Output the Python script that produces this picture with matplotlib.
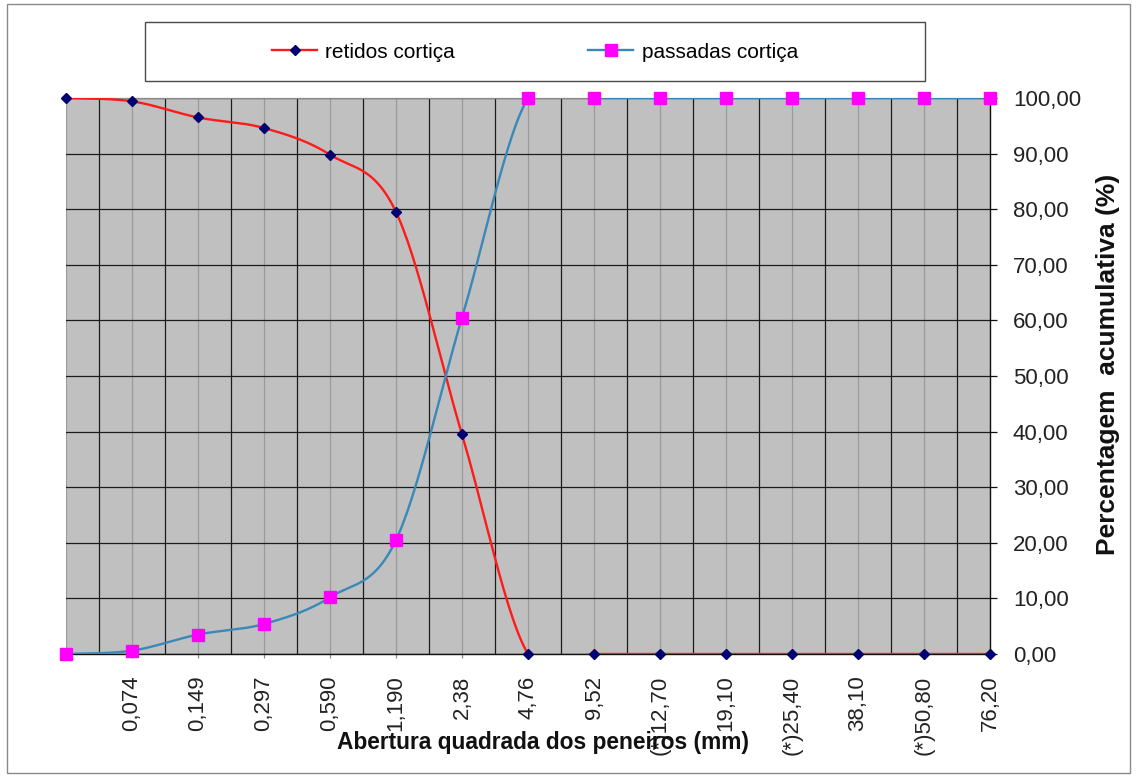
import numpy as np
import matplotlib
matplotlib.use("Agg")
import matplotlib.pyplot as plt
from matplotlib.lines import Line2D
from matplotlib.patches import Rectangle

plt.rcParams['font.family'] = ['Liberation Sans', 'DejaVu Sans']

# Sieve openings (mm) and cumulative percentages
sieves = ["", "0,074", "0,149", "0,297", "0,590", "1,190", "2,38", "4,76", "9,52",
          "(*)12,70", "19,10", "(*)25,40", "38,10", "(*)50,80", "76,20"]
retidos = [100.0, 99.4, 96.5, 94.6, 89.8, 79.5, 39.5, 0.0, 0.0,
           0.0, 0.0, 0.0, 0.0, 0.0, 0.0]
passadas = [0.0, 0.6, 3.5, 5.4, 10.2, 20.5, 60.5, 100.0, 100.0,
            100.0, 100.0, 100.0, 100.0, 100.0, 100.0]
yticks = [0, 10, 20, 30, 40, 50, 60, 70, 80, 90, 100]


def smooth(x, y, n=30):
    """Catmull-Rom style smoothing through every point (cubic Bezier pieces)."""
    x = np.asarray(x, float)
    y = np.asarray(y, float)
    px = np.concatenate([[x[0]], x, [x[-1]]])
    py = np.concatenate([[y[0]], y, [y[-1]]])
    xs, ys = [], []
    t = np.linspace(0, 1, n)
    for i in range(1, len(px) - 2):
        p0 = np.array([px[i], py[i]])
        p3 = np.array([px[i + 1], py[i + 1]])
        c1 = p0 + (np.array([px[i + 1], py[i + 1]]) - np.array([px[i - 1], py[i - 1]])) / 6
        c2 = p3 - (np.array([px[i + 2], py[i + 2]]) - np.array([px[i], py[i]])) / 6
        b = (np.outer((1 - t) ** 3, p0) + np.outer(3 * t * (1 - t) ** 2, c1)
             + np.outer(3 * t ** 2 * (1 - t), c2) + np.outer(t ** 3, p3))
        xs.append(b[:, 0])
        ys.append(b[:, 1])
    return np.concatenate(xs), np.concatenate(ys)


W, H = 1137, 776
fig = plt.figure(figsize=(W / 100, H / 100), dpi=100)

# chart frame
fig.patches.append(Rectangle((7 / W, 1 - 773 / H), 1123 / W, 769 / H,
                             transform=fig.transFigure, fill=False,
                             edgecolor='#8a8a8a', linewidth=1.0))

ax = fig.add_axes([66 / W, 1 - 654 / H, 924 / W, 556 / H])
ax.set_facecolor('#C0C0C0')
x = np.arange(len(sieves))
ax.set_xlim(0, len(sieves) - 1)
ax.set_ylim(0, 100)

# grid: dark lines between categories, light lines on categories
ax.set_xticks(x)
ax.set_xticks(x[:-1] + 0.5, minor=True)
ax.grid(which='major', axis='x', color='#9a9a9a', linewidth=0.9, zorder=1)
ax.grid(which='minor', axis='x', color='#1c1c1c', linewidth=0.9, zorder=1)
ax.set_yticks(yticks)
ax.grid(which='major', axis='y', color='#1c1c1c', linewidth=0.9, zorder=1)
ax.set_axisbelow(True)

# spines
ax.spines['left'].set_visible(False)
ax.spines['top'].set_color('#8a8a8a')
ax.spines['top'].set_linewidth(0.9)
ax.spines['bottom'].set_color('#101010')
ax.spines['bottom'].set_linewidth(1.0)
ax.spines['right'].set_color('#101010')
ax.spines['right'].set_linewidth(1.0)
for s in ax.spines.values():
    s.set_zorder(2.5)

# curves (clipped to the plot area, drawn over the axis lines)
red_color = '#FF1a1a'
blue_color = '#3a88b8'
sx, sy = smooth(x, retidos)
ax.plot(sx, sy, color=red_color, linewidth=1.7, zorder=3)
sx, sy = smooth(x, passadas)
ax.plot(sx, sy, color=blue_color, linewidth=1.7, zorder=3)
ax.plot(x, retidos, linestyle='none', marker='D', markersize=5.3,
        color='#000070', clip_on=False, zorder=6)
ax.plot(x, passadas, linestyle='none', marker='s', markersize=8.5,
        color='#FF00FF', clip_on=False, zorder=5)

# y axis on the right
ax.yaxis.tick_right()
ax.set_yticklabels([f"{v:.2f}".replace('.', ',') for v in yticks])
ax.tick_params(axis='y', which='major', direction='out', length=5, width=0.9,
               color='#101010', pad=11.5, labelsize=16, labelcolor='#222222')
ax.tick_params(axis='x', which='major', direction='out', length=3, width=0.9,
               color='#8a8a8a', pad=12.5, labelsize=16, labelcolor='#222222')
ax.tick_params(axis='x', which='minor', length=0)
ax.set_xticklabels(sieves, rotation=90)

# axis titles
fig.text(543 / W, 1 - 742 / H, "Abertura quadrada dos peneiros (mm)",
         ha='center', va='center', fontsize=16.4, fontweight='bold', color='#111111')
fig.text(1108 / W, 1 - 364 / H, "Percentagem  acumulativa (%)",
         ha='center', va='center', rotation=90, fontsize=19, fontweight='bold',
         color='#111111')

# legend box
fig.patches.append(Rectangle((145 / W, 1 - 81 / H), 780 / W, 59 / H,
                             transform=fig.transFigure, facecolor='white',
                             edgecolor='#4a4a4a', linewidth=1.0))
handles = [Line2D([], [], color=red_color, linewidth=1.7, marker='D',
                  markersize=5.3, markerfacecolor='#000070', markeredgecolor='#000070'),
           Line2D([], [], color=blue_color, linewidth=1.7, marker='s',
                  markersize=8.5, markerfacecolor='#FF00FF', markeredgecolor='#FF00FF')]
fig.legend(handles, ["retidos cortiça", "passadas cortiça"], ncol=2,
           loc='center', bbox_to_anchor=(535 / W, 1 - 52 / H), frameon=False,
           fontsize=15, handlelength=2.16, handletextpad=0.4, columnspacing=6.4,
           borderpad=0)

fig.savefig("out.png", dpi=100)
